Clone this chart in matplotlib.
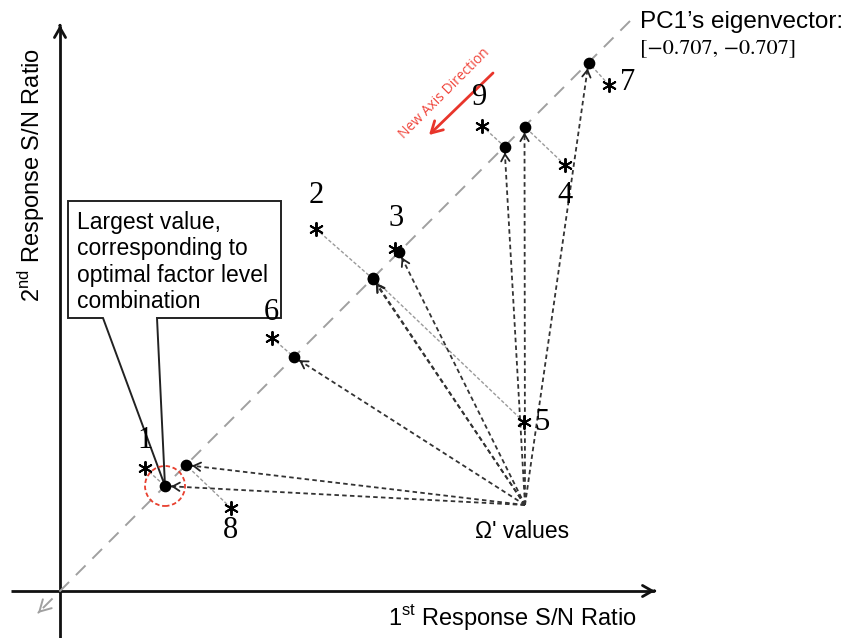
import numpy as np
import matplotlib
matplotlib.use("Agg")
import matplotlib.pyplot as plt
from matplotlib.patches import Circle, Polygon

plt.rcParams['font.family'] = ['Liberation Sans', 'DejaVu Sans']
plt.rcParams['mathtext.fontset'] = 'custom'
plt.rcParams['mathtext.rm'] = 'Liberation Sans'

# factor level combinations (1st S/N, 2nd S/N)
labels = ['1', '2', '3', '4', '5', '6', '7', '8', '9']
sn1 = [8.5, 25.6, 33.5, 50.5, 46.4, 21.2, 54.9, 17.1, 42.2]
sn2 = [12.3, 36.2, 34.2, 42.6, 16.9, 25.3, 50.6, 8.3, 46.5]
# position of each projected point along the PC1 line
pc1_pos = [10.5, 31.25, 33.9, 46.45, 31.3, 23.4, 52.85, 12.6, 44.45]
eigvec = [-0.707, -0.707]
omega = [46.5, 8.6]          # Ω' values point
best = '1'                   # largest value

# where each number sits relative to its asterisk
label_off = {'1': (0, 2.8), '2': (0, 3.4), '3': (0.1, 3.1), '4': (0, -3.0),
             '5': (1.8, 0), '6': (-0.1, 2.6), '7': (1.9, 0.2),
             '8': (0, -2.2), '9': (-0.2, 2.9)}

pts = np.column_stack([sn1, sn2])
d = -np.array(eigvec) / abs(eigvec[0])          # (1, 1) direction on the plot
proj = np.outer(pc1_pos, d)

fig = plt.figure(figsize=(8.61, 6.38), dpi=100)
ax = fig.add_axes([0, 0, 1, 1])
ax.set_xlim(-6.0, 80.1)
ax.set_ylim(-4.7, 59.1)
ax.axis('off')


def head(tip, direction, color, lw, hl=0.5, hw=0.3):
    v = np.asarray(direction, float)
    v = v / np.linalg.norm(v)
    ax.annotate('', xy=tip, xytext=np.asarray(tip) - 0.05 * v,
                arrowprops=dict(arrowstyle=f'->,head_length={hl},head_width={hw}',
                                color=color, lw=lw, shrinkA=0, shrinkB=0))


# main axes
ax.plot([-4.9, 59.4], [0, 0], color='#111', lw=2, solid_capstyle='butt')
head((59.5, 0), (1, 0), '#111', 2, 0.7, 0.4)
ax.plot([0, 0], [-4.7, 56.5], color='#111', lw=2, solid_capstyle='butt')
head((0, 56.6), (0, 1), '#111', 2, 0.7, 0.4)

# PC1 direction line
t = np.array([57.0, -2.1])
ax.plot(t * d[0], t * d[1], color='#a0a0a0', lw=1.4, dashes=(7, 5))
head((-2.2, -2.2), -d, '#a0a0a0', 1.4, 0.8, 0.45)

# projections of each point onto PC1
for (x, y), (px, py) in zip(pts, proj):
    ax.plot([x, px], [y, py], color='#9a9a9a', lw=1.0, dashes=(2.5, 1.5))

# Ω' arrows to the projected points
for px, py in proj:
    v = np.array([px, py]) - np.array(omega)
    tip = np.array([px, py]) - 0.6 * v / np.linalg.norm(v)
    ax.plot([omega[0], tip[0]], [omega[1], tip[1]], color='#333', lw=1.3,
            dashes=(2.5, 1.8))
    head(tip, v, '#222', 1.3, 0.5, 0.3)

ax.scatter(proj[:, 0], proj[:, 1], s=55, color='black', zorder=5)
ax.scatter(pts[:, 0], pts[:, 1], marker=(6, 2, 0), s=90, color='black',
           linewidths=1.4, zorder=5)
for lab, (x, y) in zip(labels, pts):
    dx, dy = label_off[lab]
    ax.text(x + dx, y + dy, lab, family='Liberation Serif', fontsize=22,
            ha='center', va='center', zorder=8)

# best point highlight and callout
bi = labels.index(best)
bx, by = proj[bi]
ax.add_patch(Circle((bx, by), 2.0, fill=False, edgecolor='#e8402f', lw=1.3,
                    linestyle=(0, (2.5, 1.5)), zorder=6))
box = Polygon([(9.7, 27.3), (22.1, 27.3), (22.1, 39.0), (0.8, 39.0), (0.8, 27.3),
               (4.3, 27.3), (bx, by)], closed=True, facecolor='white',
              edgecolor='#222', lw=1.4, zorder=4)
ax.add_patch(box)
ax.text(1.7, 32.9, 'Largest value,\ncorresponding to\noptimal factor level\ncombination',
        fontsize=16.5, ha='left', va='center', linespacing=1.17, zorder=7)

# texts
ax.text(45.2, -2.6, r'1$^{\mathrm{st}}$ Response S/N Ratio', fontsize=17,
        ha='center', va='center')
ax.text(-2.8, 41.6, r'2$^{\mathrm{nd}}$ Response S/N Ratio', fontsize=17,
        ha='center', va='center', rotation=90)
ax.text(58.0, 56.9, 'PC1\u2019s eigenvector:', fontsize=17.5, ha='left', va='center')
ax.text(58.0, 54.3, '[\u22120.707, \u22120.707]', family='STIXGeneral', fontsize=16,
        ha='left', va='center')
ax.text(41.5, 5.9, "\u03a9' values", fontsize=16.5, ha='left', va='center')

# new axis direction
ax.annotate('', xy=(36.9, 45.6), xytext=(43.3, 51.8),
            arrowprops=dict(arrowstyle='->,head_length=0.8,head_width=0.45',
                            color='#e8352b', lw=2, shrinkA=0, shrinkB=0))
ax.text(38.5, 49.7, 'New Axis Direction', fontsize=10, color='#f0463c',
        rotation=45, ha='center', va='center', family='Open Sans')

fig.savefig('out.png', dpi=100)
